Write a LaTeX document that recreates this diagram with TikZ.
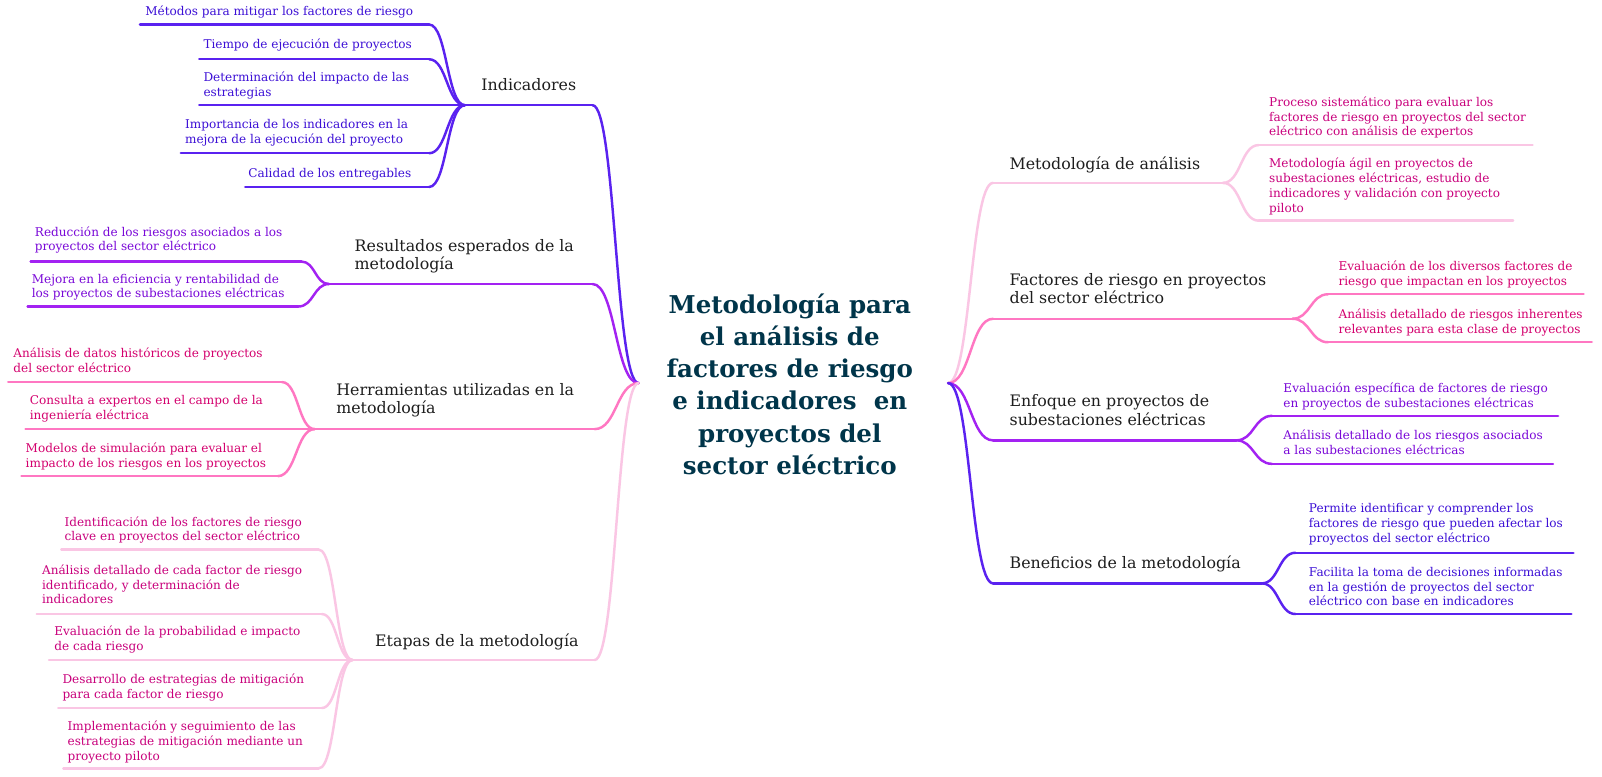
\documentclass[tikz,border=0pt]{standalone}
\usepackage{fontspec}
\setmainfont{DejaVu Serif}
\usetikzlibrary{calc}
\definecolor{cA}{HTML}{5A22F0}
\definecolor{cAt}{HTML}{3D10D6}
\definecolor{cB}{HTML}{A322F2}
\definecolor{cBt}{HTML}{7A08D8}
\definecolor{cC}{HTML}{FF77C2}
\definecolor{cCt}{HTML}{D4006E}
\definecolor{cD}{HTML}{FAC6E4}
\definecolor{cDt}{HTML}{C9007C}
\definecolor{ttl}{HTML}{00354A}
\definecolor{lbl}{HTML}{1E1E1E}
\tikzset{
  conn/.style={line width=2.4pt, line cap=round},
  leaftxt/.style={anchor=base west, inner sep=0pt, align=left, font=\fontsize{11.8}{14.5}\selectfont},
  brtxt/.style={anchor=base west, inner sep=0pt, align=left, text=lbl, font=\fontsize{15.5}{18}\selectfont},
  titletxt/.style={inner sep=0pt, align=center, text=ttl, font=\bfseries\fontsize{24}{31.5}\selectfont},
}
\newcommand{\mmcurve}[3]{\path ($(#1)!0.5!(#2)$) coordinate (tmpm);
  \draw[conn,#3] (#1) .. controls (tmpm |- #1) and (tmpm |- #2) .. (#2);}
\begin{document}
\begin{tikzpicture}[x=1pt,y=-1pt]
\useasboundingbox (0,0) rectangle (1568,760);
\fill[white] (0,0) rectangle (1568,760);
% roots
\node[titletxt] (title) at (773,376) {Metodología para\\el análisis de\\factores de riesgo\\e indicadores\ \ en\\proyectos del\\sector eléctrico};
\coordinate (rootL) at (625,375);
\coordinate (rootR) at (928,375);
% ---------- left: Indicadores
\coordinate (c1) at (580,103); \coordinate (h1) at (455,103);
\mmcurve{rootL}{c1}{cA}
\draw[conn,cA] (c1) -- (h1);
\node[brtxt] (b1) at (471,89) {Indicadores};
\coordinate (e11) at (420,24); \coordinate (s11) at (137,24);
\coordinate (e12) at (420,58); \coordinate (s12) at (195,58);
\coordinate (s13) at (195,103);
\coordinate (e14) at (420,150); \coordinate (s14) at (177,150);
\coordinate (e15) at (420,183); \coordinate (s15) at (240,183);
\mmcurve{h1}{e11}{cA} \draw[conn,cA] (e11) -- (s11);
\mmcurve{h1}{e12}{cA} \draw[conn,cA] (e12) -- (s12);
\draw[conn,cA] (h1) -- (s13);
\mmcurve{h1}{e14}{cA} \draw[conn,cA] (e14) -- (s14);
\mmcurve{h1}{e15}{cA} \draw[conn,cA] (e15) -- (s15);
\node[leaftxt,text=cAt] (t11) at (142,15) {Métodos para mitigar los factores de riesgo};
\node[leaftxt,text=cAt] (t12) at (199,47) {Tiempo de ejecución de proyectos};
\node[leaftxt,text=cAt] (t13) at (199,94.5) {Determinación del impacto de las\\estrategias};
\node[leaftxt,text=cAt] (t14) at (181,140.5) {Importancia de los indicadores en la\\mejora de la ejecución del proyecto};
\node[leaftxt,text=cAt] (t15) at (243,174) {Calidad de los entregables};
% ---------- left: Resultados
\coordinate (c2) at (580,278); \coordinate (h2) at (322,278);
\mmcurve{rootL}{c2}{cB}
\draw[conn,cB] (c2) -- (h2);
\node[brtxt] (b2) at (347,264) {Resultados esperados de la\\metodología};
\coordinate (e21) at (295,256); \coordinate (s21) at (30,256);
\coordinate (e22) at (292,300); \coordinate (s22) at (27,300);
\mmcurve{h2}{e21}{cB} \draw[conn,cB] (e21) -- (s21);
\mmcurve{h2}{e22}{cB} \draw[conn,cB] (e22) -- (s22);
\node[leaftxt,text=cBt] (t21) at (34,245.5) {Reducción de los riesgos asociados a los\\proyectos del sector eléctrico};
\node[leaftxt,text=cBt] (t22) at (31,291.5) {Mejora en la eficiencia y rentabilidad de\\los proyectos de subestaciones eléctricas};
% ---------- left: Herramientas
\coordinate (c3) at (582,420); \coordinate (h3) at (308,420);
\mmcurve{rootL}{c3}{cC}
\draw[conn,cC] (c3) -- (h3);
\node[brtxt] (b3) at (329,405) {Herramientas utilizadas en la\\metodología};
\coordinate (e31) at (276,374); \coordinate (s31) at (8,374);
\coordinate (s32) at (25,420);
\coordinate (e33) at (272,466); \coordinate (s33) at (21,466);
\mmcurve{h3}{e31}{cC} \draw[conn,cC] (e31) -- (s31);
\draw[conn,cC] (h3) -- (s32);
\mmcurve{h3}{e33}{cC} \draw[conn,cC] (e33) -- (s33);
\node[leaftxt,text=cCt] (t31) at (13,364.5) {Análisis de datos históricos de proyectos\\del sector eléctrico};
\node[leaftxt,text=cCt] (t32) at (29,410.5) {Consulta a expertos en el campo de la\\ingeniería eléctrica};
\node[leaftxt,text=cCt] (t33) at (25,457.5) {Modelos de simulación para evaluar el\\impacto de los riesgos en los proyectos};
% ---------- left: Etapas
\coordinate (c4) at (582,646); \coordinate (h4) at (345,646);
\mmcurve{rootL}{c4}{cD}
\draw[conn,cD] (c4) -- (h4);
\node[brtxt] (b4) at (367,633) {Etapas de la metodología};
\coordinate (e41) at (312,538); \coordinate (s41) at (60,538);
\coordinate (e42) at (315,601); \coordinate (s42) at (36,601);
\coordinate (s43) at (48,646);
\coordinate (e44) at (315,693); \coordinate (s44) at (57,693);
\coordinate (e45) at (312,752); \coordinate (s45) at (62,752);
\mmcurve{h4}{e41}{cD} \draw[conn,cD] (e41) -- (s41);
\mmcurve{h4}{e42}{cD} \draw[conn,cD] (e42) -- (s42);
\draw[conn,cD] (h4) -- (s43);
\mmcurve{h4}{e44}{cD} \draw[conn,cD] (e44) -- (s44);
\mmcurve{h4}{e45}{cD} \draw[conn,cD] (e45) -- (s45);
\node[leaftxt,text=cDt] (t41) at (63,529.5) {Identificación de los factores de riesgo\\clave en proyectos del sector eléctrico};
\node[leaftxt,text=cDt] (t42) at (41,591) {Análisis detallado de cada factor de riesgo\\identificado, y determinación de\\indicadores};
\node[leaftxt,text=cDt] (t43) at (53,636.5) {Evaluación de la probabilidad e impacto\\de cada riesgo};
\node[leaftxt,text=cDt] (t44) at (61,683.5) {Desarrollo de estrategias de mitigación\\para cada factor de riesgo};
\node[leaftxt,text=cDt] (t45) at (66,744) {Implementación y seguimiento de las\\estrategias de mitigación mediante un\\proyecto piloto};
% ---------- right: Metodología de análisis
\coordinate (c5) at (972,179); \coordinate (h5) at (1197,179);
\mmcurve{rootR}{c5}{cD}
\draw[conn,cD] (c5) -- (h5);
\node[brtxt] (b5) at (988,166) {Metodología de análisis};
\coordinate (e51) at (1232,142); \coordinate (s51) at (1500,142);
\coordinate (e52) at (1232,216); \coordinate (s52) at (1481,216);
\mmcurve{h5}{e51}{cD} \draw[conn,cD] (e51) -- (s51);
\mmcurve{h5}{e52}{cD} \draw[conn,cD] (e52) -- (s52);
\node[leaftxt,text=cDt] (t51) at (1242,133) {Proceso sistemático para evaluar los\\factores de riesgo en proyectos del sector\\eléctrico con análisis de expertos};
\node[leaftxt,text=cDt] (t52) at (1242,207.5) {Metodología ágil en proyectos de\\subestaciones eléctricas, estudio de\\indicadores y validación con proyecto\\piloto};
% ---------- right: Factores
\coordinate (c6) at (972,312); \coordinate (h6) at (1265,312);
\mmcurve{rootR}{c6}{cC}
\draw[conn,cC] (c6) -- (h6);
\node[brtxt] (b6) at (988,297) {Factores de riesgo en proyectos\\del sector eléctrico};
\coordinate (e61) at (1300,288); \coordinate (s61) at (1550,288);
\coordinate (e62) at (1300,335); \coordinate (s62) at (1558,335);
\mmcurve{h6}{e61}{cC} \draw[conn,cC] (e61) -- (s61);
\mmcurve{h6}{e62}{cC} \draw[conn,cC] (e62) -- (s62);
\node[leaftxt,text=cCt] (t61) at (1310,279.5) {Evaluación de los diversos factores de\\riesgo que impactan en los proyectos};
\node[leaftxt,text=cCt] (t62) at (1310,326.5) {Análisis detallado de riesgos inherentes\\relevantes para esta clase de proyectos};
% ---------- right: Enfoque
\coordinate (c7) at (972,431); \coordinate (h7) at (1210,431);
\mmcurve{rootR}{c7}{cB}
\draw[conn,cB] (c7) -- (h7);
\node[brtxt] (b7) at (988,416) {Enfoque en proyectos de\\subestaciones eléctricas};
\coordinate (e71) at (1245,407); \coordinate (s71) at (1525,407);
\coordinate (e72) at (1245,454); \coordinate (s72) at (1520,454);
\mmcurve{h7}{e71}{cB} \draw[conn,cB] (e71) -- (s71);
\mmcurve{h7}{e72}{cB} \draw[conn,cB] (e72) -- (s72);
\node[leaftxt,text=cBt] (t71) at (1256,398.5) {Evaluación específica de factores de riesgo\\en proyectos de subestaciones eléctricas};
\node[leaftxt,text=cBt] (t72) at (1256,444.5) {Análisis detallado de los riesgos asociados\\a las subestaciones eléctricas};
% ---------- right: Beneficios
\coordinate (c8) at (972,571); \coordinate (h8) at (1235,571);
\mmcurve{rootR}{c8}{cA}
\draw[conn,cA] (c8) -- (h8);
\node[brtxt] (b8) at (988,556) {Beneficios de la metodología};
\coordinate (e81) at (1268,541); \coordinate (s81) at (1540,541);
\coordinate (e82) at (1268,601); \coordinate (s82) at (1538,601);
\mmcurve{h8}{e81}{cA} \draw[conn,cA] (e81) -- (s81);
\mmcurve{h8}{e82}{cA} \draw[conn,cA] (e82) -- (s82);
\node[leaftxt,text=cAt] (t81) at (1281,531) {Permite identificar y comprender los\\factores de riesgo que pueden afectar los\\proyectos del sector eléctrico};
\node[leaftxt,text=cAt] (t82) at (1281,593) {Facilita la toma de decisiones informadas\\en la gestión de proyectos del sector\\eléctrico con base en indicadores};
\end{tikzpicture}
\end{document}
